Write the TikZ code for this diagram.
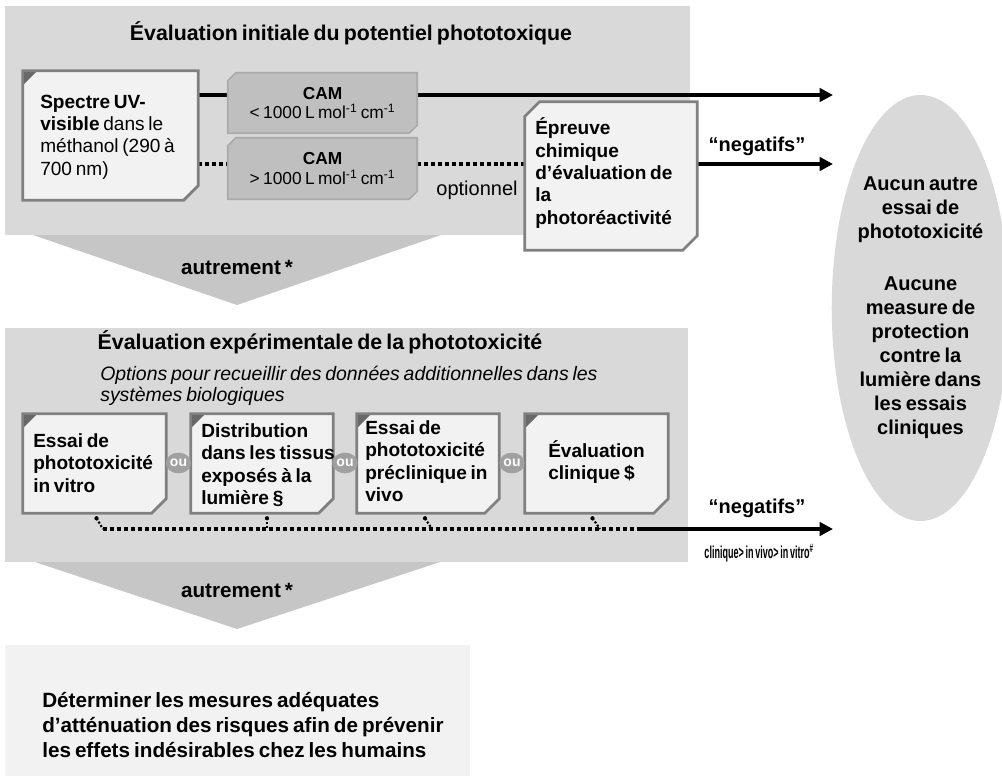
\documentclass[tikz,border=0pt]{standalone}
\usepackage{fontspec}
\setmainfont{Liberation Sans}[WordSpace=0.7]
\usetikzlibrary{arrows.meta,shapes.geometric,fit,calc}
\definecolor{panel}{RGB}{217,217,217}
\definecolor{chev}{RGB}{198,198,198}
\definecolor{boxfill}{RGB}{242,242,242}
\definecolor{boxline}{RGB}{128,128,128}
\definecolor{camfill}{RGB}{191,191,191}
\definecolor{camline}{RGB}{170,170,170}
\definecolor{ougray}{RGB}{160,160,160}
\definecolor{cornerdark}{RGB}{105,105,105}
\newcommand\foldbox[1]{%
  \filldraw[fill=boxfill,draw=boxline,line width=2pt,line join=miter]
    (#1.north west) -- (#1.north east) -- ([yshift=11pt]#1.south east)
    -- ([xshift=-11pt]#1.south east) -- (#1.south west) -- cycle;
  \fill[cornerdark] ([shift={(1pt,-1pt)}]#1.north west) -- ([shift={(10pt,-1pt)}]#1.north west)
    -- ([shift={(1pt,-10pt)}]#1.north west) -- cycle;}
\newcommand\snipbox[5]{%
  \filldraw[fill=#3,draw=#4,line width=#5,line join=miter]
    ([xshift=#2]#1.north west) -- (#1.north east) -- ([yshift=#2]#1.south east)
    -- ([xshift=-#2]#1.south east) -- (#1.south west) -- ([yshift=-#2]#1.north west) -- cycle;}
\begin{document}
\begin{tikzpicture}[x=0.75pt,y=-0.75pt,
  every node/.style={inner sep=0pt},
  txt/.style={anchor=west, align=left, font=\fontsize{14.3}{16.8}\selectfont\bfseries},
  title/.style={font=\fontsize{16}{18}\selectfont\bfseries},
  camtxt/.style={align=center, font=\fontsize{13}{14.5}\selectfont},
  neg/.style={font=\fontsize{15}{18}\selectfont\bfseries},
  oubox/.style={ellipse, fill=ougray, minimum width=19pt, minimum height=15.5pt,
    text=white, font=\fontsize{10.5}{12}\selectfont\bfseries},
  solidline/.style={line width=3pt},
  arrowline/.style={line width=3pt, -{Triangle[length=10pt,width=10pt]}},
  dotline/.style={line width=3pt, dash pattern=on 3pt off 2.2pt},
  dotsmall/.style={line width=1.6pt, dash pattern=on 1.6pt off 1.4pt}]
\useasboundingbox (0,0) rectangle (1002,776);
\fill[white] (0,0) rectangle (1002,776);
% panels and chevrons
\fill[panel] (5,6) rectangle (690,235);
\fill[chev] (33,235) -- (441,235) -- (237,305) -- cycle;
\fill[panel] (5,328) rectangle (688,562);
\fill[chev] (35,562) -- (440,562) -- (237,629) -- cycle;
\fill[boxfill] (5,645) rectangle (470,776);
\node[ellipse, fill=panel, minimum width=120.75pt, minimum height=319.5pt, align=center,
  font=\fontsize{15}{18}\selectfont\bfseries] (res) at (920.5,308)
  {Aucun autre\\essai de\\phototoxicité\\[21pt]Aucune\\measure de\\protection\\contre la\\lumière dans\\les essais\\cliniques};
% titles
\node[title] (t1) at (351,33) {Évaluation initiale du potentiel phototoxique};
\node[title] (t2) at (320,342) {Évaluation expérimentale de la phototoxicité};
\node[anchor=west, align=left, font=\fontsize{14.6}{16}\selectfont\itshape] (opt) at (100,386)
  {Options pour recueillir des données additionnelles dans les\\systèmes biologiques};
\node[font=\fontsize{15.5}{18}\selectfont\bfseries] (au1) at (237,267) {autrement *};
\node[font=\fontsize{15.5}{18}\selectfont\bfseries] (au2) at (237,590) {autrement *};
% top boxes
\node[fit={(23,71) (198,200)}, inner sep=0pt] (sp) {};
\node[fit={(228,73) (417,133)}, inner sep=0pt] (cam1) {};
\node[fit={(228,138) (417,199)}, inner sep=0pt] (cam2) {};
\node[fit={(525,102) (697,250)}, inner sep=0pt] (ep) {};
% top connectors
\coordinate (a1) at (833,95);
\coordinate (a2) at (833,164);
\draw[solidline] (sp.east |- a1) -- (cam1.west |- a1);
\draw[arrowline] (cam1.east |- a1) -- (a1);
\draw[dotline] (sp.east |- a2) -- (cam2.west |- a2);
\draw[dotline] (cam2.east |- a2) -- (ep.west |- a2);
\draw[arrowline] (ep.east |- a2) -- (a2);
\foldbox{sp}
\snipbox{cam1}{6pt}{camfill}{camline}{1.2pt}
\snipbox{cam2}{6pt}{camfill}{camline}{1.2pt}
\snipbox{ep}{11pt}{boxfill}{boxline}{2pt}
\node[txt, font=\fontsize{14.3}{16.8}\selectfont] (sptxt) at (40,137)
  {\textbf{Spectre UV-}\\\textbf{visible} dans le\\méthanol (290 à\\700 nm)};
\node[camtxt] (cam1txt) at (cam1) {\textbf{CAM}\\< 1000 L mol\textsuperscript{-1} cm\textsuperscript{-1}};
\node[camtxt] (cam2txt) at (cam2) {\textbf{CAM}\\> 1000 L mol\textsuperscript{-1} cm\textsuperscript{-1}};
\node[txt] (eptxt) at (535,173) {Épreuve\\chimique\\d’évaluation de\\la\\photoréactivité};
\node[font=\fontsize{15}{16}\selectfont] (optl) at (477,190) {optionnel};
\node[neg] (n1) at (757,146) {“negatifs”};
% lower boxes
\node[fit={(23,414) (166,513)}, inner sep=0pt] (b1) {};
\node[fit={(191,414) (333,513)}, inner sep=0pt] (b2) {};
\node[fit={(357,414) (499,513)}, inner sep=0pt] (b3) {};
\node[fit={(525,414) (668,513)}, inner sep=0pt] (b4) {};
\coordinate (j1) at (103,529);
\coordinate (j2) at (267,529);
\coordinate (j3) at (432,529);
\coordinate (j4) at (600,529);
\coordinate (jm) at (640,529);
\coordinate (a3) at (833,529);
\draw[dotline] (j1) -- (jm);
\draw[arrowline] (jm) -- (a3);
\draw[dotsmall] ($(b1.south)+(2,5)$) coordinate (d1) -- (j1);
\draw[dotsmall] ($(b2.south)+(5,5)$) coordinate (d2) -- (j2);
\draw[dotsmall] ($(b3.south)+(-3,5)$) coordinate (d3) -- (j3);
\draw[dotsmall] ($(b4.south)+(-4,5)$) coordinate (d4) -- (j4);
\foreach \d in {d1,d2,d3,d4} \fill (\d) circle (1.6pt);
\foldbox{b1}
\foldbox{b2}
\foldbox{b3}
\foldbox{b4}
\node[txt] (b1txt) at (33,463) {Essai de\\phototoxicité\\in vitro};
\node[txt] (b2txt) at (201,465) {Distribution\\dans les tissus\\exposés à la\\lumière §};
\node[txt] (b3txt) at (365,461) {Essai de\\phototoxicité\\préclinique in\\vivo};
\node[txt] (b4txt) at (548,462) {Évaluation\\clinique \$};
\node[oubox] (ou1) at (178.5,463) {ou};
\node[oubox] (ou2) at (345,463) {ou};
\node[oubox] (ou3) at (512,463) {ou};
\node[neg] (n2) at (757,508) {“negatifs”};
\node[font=\fontsize{13}{14}\selectfont\bfseries] (ord) at (759,553)
  {\scalebox{0.52}[1]{clinique> in vivo> in vitro\textsuperscript{\#}}};
% bottom box text
\node[anchor=west, align=left, font=\fontsize{15.5}{18.75}\selectfont\bfseries] (fin) at (42,725)
  {Déterminer les mesures adéquates\\d’atténuation des risques afin de prévenir\\les effets indésirables chez les humains};
\end{tikzpicture}
\end{document}
